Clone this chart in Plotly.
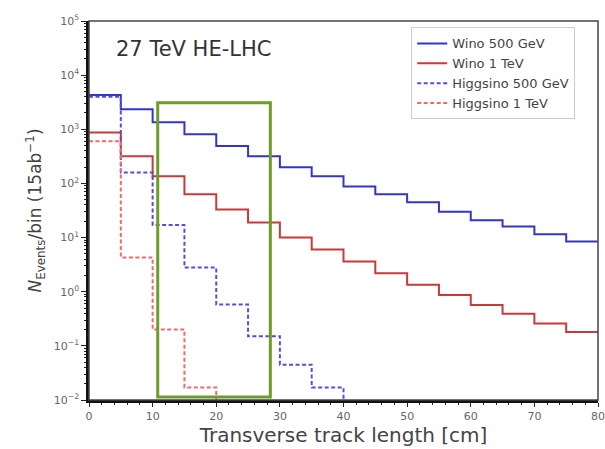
import plotly.graph_objects as go

# Transverse track length bin edges [cm]
bin_edges = [0, 5, 10, 15, 20, 25, 30, 35, 40, 45, 50, 55, 60, 65, 70, 75, 80]

# Expected events per 5 cm bin at 15 ab^-1
wino_500 = [4300, 2350, 1350, 810, 490, 316, 200, 135, 88, 63, 45, 30, 21, 16, 11.5, 8.5]
wino_1000 = [870, 316, 135, 63, 33, 19, 10, 6.0, 3.6, 2.2, 1.35, 0.87, 0.57, 0.39, 0.26, 0.18]
higgsino_500 = [4000, 160, 17, 2.8, 0.58, 0.15, 0.045, 0.017]
higgsino_1000 = [600, 4.3, 0.2, 0.017]

# Decade ticks of the event axis
y_tick_exponents = [-2, -1, 0, 1, 2, 3, 4, 5]
x_tick_values = [0, 10, 20, 30, 40, 50, 60, 70, 80]

FLOOR = 1e-4  # below the axis: closes a histogram that runs out of events


def step_xy(values, edges):
    """Histogram outline for a 'hv' step line."""
    n = len(values)
    xs = list(edges[: n + 1])
    if n < len(edges) - 1:
        ys = list(values) + [FLOOR]
    else:
        ys = list(values) + [values[-1]]
    return xs, ys


series = [
    ("Wino 500 GeV", wino_500, "#3434c8", "solid"),
    ("Wino 1 TeV", wino_1000, "#c83a3a", "solid"),
    ("Higgsino 500 GeV", higgsino_500, "#5050dc", "4px,2.5px"),
    ("Higgsino 1 TeV", higgsino_1000, "#f06a6a", "4px,2.5px"),
]

fig = go.Figure()
for name, vals, color, dash in series:
    xs, ys = step_xy(vals, bin_edges)
    fig.add_trace(go.Scatter(
        x=xs, y=ys, name=name, mode="lines",
        line=dict(shape="hv", color=color, width=2, dash=dash),
    ))

axis_font = dict(family="DejaVu Sans", size=11, color="#666666")

# Minor ticks at 2..9 x 10^n within the shown decades
y_minor_vals = [k * 10.0 ** e for e in y_tick_exponents[:-1] for k in range(2, 10)]

fig.update_layout(
    width=605, height=449,
    margin=dict(l=89, r=7, t=21, b=49),
    paper_bgcolor="white", plot_bgcolor="white",
    font=dict(family="DejaVu Sans", color="#333333"),
    showlegend=True,
    legend=dict(
        x=0.633, y=0.983, xanchor="left", yanchor="top",
        bgcolor="white", bordercolor="#cccccc", borderwidth=1,
        font=dict(family="DejaVu Sans", size=13, color="#444444"),
        tracegroupgap=0, itemwidth=30,
    ),
    xaxis=dict(
        range=[0, 80], tickvals=x_tick_values, automargin=False,
        ticks="outside", ticklen=4, tickcolor="#222222", tickfont=axis_font,
        minor=dict(ticks="outside", ticklen=2, dtick=2, tickcolor="#222222"),
        showgrid=False, zeroline=False,
        showline=True, linecolor="#111111", linewidth=2.5, mirror=False,
        title=dict(text="Transverse track length [cm]",
                   font=dict(family="DejaVu Sans", size=20, color="#444444"),
                   standoff=2),
    ),
    yaxis=dict(
        type="log", range=[-2, 5], automargin=False,
        tickmode="array",
        tickvals=[10.0 ** e for e in y_tick_exponents],
        ticktext=[f"10<sup>{e}</sup>".replace("-", "−") for e in y_tick_exponents],
        ticks="outside", ticklen=5, tickcolor="#222222", tickfont=axis_font,
        minor=dict(tickmode="array", tickvals=y_minor_vals,
                   ticks="outside", ticklen=2, tickcolor="#222222"),
        showgrid=False, zeroline=False,
        showline=True, linecolor="#111111", linewidth=2.5, mirror=False,
        title=dict(text="<i>N</i><sub>Events</sub>/bin (15ab<sup>−1</sup>)",
                   font=dict(family="DejaVu Sans", size=17, color="#444444"),
                   standoff=8),
    ),
)

# Thin frame on the top and right of the plot area
fig.add_shape(type="rect", xref="paper", yref="paper", x0=0, x1=1, y0=0, y1=1,
              line=dict(color="#444444", width=1.5), layer="above")

# Highlighted track-length window
fig.add_shape(type="rect", xref="x", yref="y domain",
              x0=10.8, x1=28.5, y0=0.008, y1=0.784,
              line=dict(color="#6e9c2c", width=3), layer="above")

fig.add_annotation(text="27 TeV HE-LHC", xref="paper", yref="paper",
                   x=0.05, y=0.925, xanchor="left", yanchor="middle",
                   showarrow=False,
                   font=dict(family="DejaVu Sans", size=21, color="#333333"))

fig.write_html("out.html")
